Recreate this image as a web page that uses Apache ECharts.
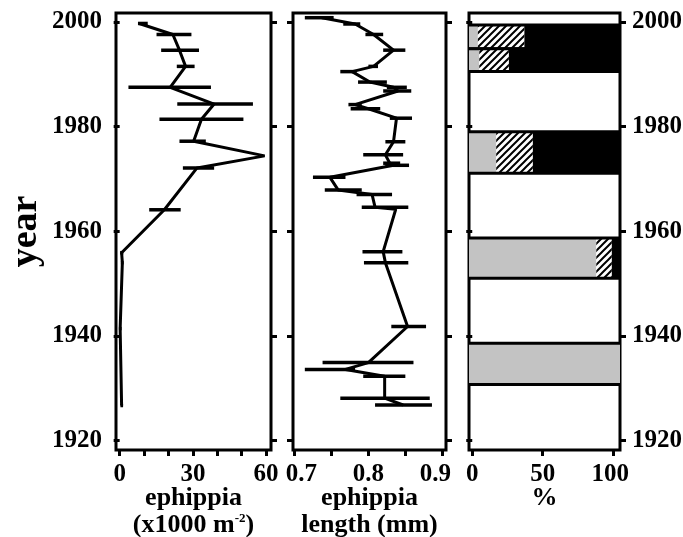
<!DOCTYPE html>
<html>
<head>
<meta charset="utf-8">
<script src="https://cdn.jsdelivr.net/npm/echarts@6.0.0/dist/echarts.min.js"></script>
<style>
  html, body { margin: 0; padding: 0; background: #fff; }
  #chart { width: 683px; height: 537px; }
</style>
</head>
<body>
<div id="chart"></div>
<script>
// panel 1: ephippia density (x1000 m-2)
var densYear  = [1999.7, 1997.6, 1994.6, 1991.5, 1987.5, 1984.3, 1981.4, 1977.2, 1974.4, 1972.1, 1964.1, 1955.9, 1954.0, 1941.4, 1926.7];
var densValue = [8.0, 21.8, 24.5, 27.0, 20.7, 38.7, 33.5, 30.3, 59.4, 31.7, 18.3, 0.8, 1.1, 0.2, 0.8];
var densLow   = [7.5, 15.1, 17.0, 23.4, 3.6, 23.6, 16.3, 24.5, 59.4, 25.9, 12.1, 0.2, 0.5, -0.3, 0.3];
var densHigh  = [11.5, 29.4, 32.5, 30.7, 37.4, 54.6, 50.7, 35.3, 59.4, 38.7, 25.0, 1.5, 1.6, 0.8, 1.4];

// panel 2: ephippia length (mm)
var lenYear  = [2000.8, 1999.6, 1997.6, 1994.6, 1991.5, 1990.5, 1988.5, 1987.5, 1986.8, 1984.2, 1983.4, 1981.6, 1977.1, 1974.6, 1973.0, 1972.6, 1970.3, 1967.9, 1967.0, 1964.6, 1964.2, 1956.1, 1954.0, 1941.8, 1934.9, 1933.6, 1932.3, 1928.1, 1926.8];
var lenValue = [0.737, 0.782, 0.807, 0.834, 0.807, 0.778, 0.802, 0.834, 0.840, 0.782, 0.800, 0.838, 0.834, 0.823, 0.829, 0.834, 0.748, 0.759, 0.805, 0.809, 0.837, 0.820, 0.823, 0.853, 0.800, 0.769, 0.822, 0.822, 0.847];
var lenLow   = [0.714, 0.766, 0.796, 0.820, 0.800, 0.762, 0.786, 0.825, 0.820, 0.773, 0.776, 0.829, 0.823, 0.793, 0.820, 0.823, 0.725, 0.741, 0.784, 0.791, 0.837, 0.792, 0.794, 0.831, 0.738, 0.714, 0.793, 0.762, 0.809];
var lenHigh  = [0.753, 0.789, 0.820, 0.850, 0.813, 0.784, 0.825, 0.852, 0.858, 0.791, 0.816, 0.859, 0.850, 0.847, 0.843, 0.855, 0.769, 0.791, 0.832, 0.854, 0.837, 0.846, 0.854, 0.878, 0.861, 0.782, 0.850, 0.883, 0.886];

// panel 3: composition (%) per sediment interval
var bandStart   = [1994.85, 1990.5, 1971.1, 1951.0, 1930.7];
var bandEnd     = [1999.4, 1994.85, 1979.0, 1958.7, 1938.6];
var bandGray    = [4, 5, 17, 88, 100];
var bandHatched = [33, 21, 26, 11, 0];
var bandBlack   = [63, 74, 57, 1, 0];

var yearTicks = [1920, 1940, 1960, 1980, 2000];
var densTicks = [0, 10, 20, 30, 40, 50, 60];
var densLabels = [0, 30, 60];
var lenTicks = [0.7, 0.75, 0.8, 0.85, 0.9];
var lenLabels = [0.7, 0.8, 0.9];
var pctTicks = [0, 50, 100];

var yearMin = 1918.2;
var yearMax = 2001.7;
var font = 'Liberation Serif';

function hatchPattern() {
    var c = document.createElement('canvas');
    c.width = 7;
    c.height = 7;
    var ctx = c.getContext('2d');
    ctx.fillStyle = '#fff';
    ctx.fillRect(0, 0, 7, 7);
    ctx.strokeStyle = '#000';
    ctx.lineWidth = 2;
    ctx.beginPath();
    ctx.moveTo(-1, 8); ctx.lineTo(8, -1);
    ctx.moveTo(-4, 4); ctx.lineTo(4, -4);
    ctx.moveTo(3, 11); ctx.lineTo(11, 3);
    ctx.stroke();
    return c;
}
var hatch = hatchPattern();

function pairs(xs, ys) {
    var out = [];
    for (var i = 0; i < xs.length; i++) out.push([xs[i], ys[i]]);
    return out;
}
function errData(lo, hi, ys) {
    var out = [];
    for (var i = 0; i < ys.length; i++) out.push([lo[i], hi[i], ys[i]]);
    return out;
}

function renderErr(params, api) {
    var a = api.coord([api.value(0), api.value(2)]);
    var b = api.coord([api.value(1), api.value(2)]);
    if (b[0] - a[0] < 1) return null;
    return {
        type: 'line',
        shape: { x1: a[0], y1: a[1], x2: b[0], y2: b[1] },
        style: { stroke: '#000', lineWidth: 3.5 }
    };
}

function renderBand(params, api) {
    var cs = params.coordSys;
    var left = cs.x, right = cs.x + cs.width;
    var top = api.coord([0, api.value(1)])[1];
    var bottom = api.coord([0, api.value(0)])[1];
    var vals = [api.value(2), api.value(3), api.value(4)];
    var fills = ['#c3c3c3', { image: hatch, repeat: 'repeat' }, '#000'];
    var last = 0;
    for (var k = 0; k < 3; k++) if (vals[k] > 0) last = k;
    var children = [];
    var cum = 0, x0 = left;
    for (var j = 0; j < 3; j++) {
        if (vals[j] <= 0) continue;
        cum += vals[j];
        var x1 = (j === last) ? right : api.coord([cum, 0])[0];
        children.push({
            type: 'rect',
            shape: { x: x0, y: top, width: x1 - x0, height: bottom - top },
            style: { fill: fills[j] }
        });
        x0 = x1;
    }
    children.push({ type: 'line', shape: { x1: left, y1: top, x2: right, y2: top }, style: { stroke: '#000', lineWidth: 3 } });
    children.push({ type: 'line', shape: { x1: left, y1: bottom, x2: right, y2: bottom }, style: { stroke: '#000', lineWidth: 3 } });
    return { type: 'group', children: children };
}

var bandData = [];
for (var i = 0; i < bandStart.length; i++) {
    bandData.push([bandStart[i], bandEnd[i], bandGray[i], bandHatched[i], bandBlack[i]]);
}

function yAx(gridIndex, pos, showLabel, extra) {
    var ax = {
        type: 'value', gridIndex: gridIndex, position: pos,
        min: yearMin, max: yearMax,
        axisLine: { show: false },
        splitLine: { show: false },
        axisTick: { show: true, length: 6, lineStyle: { color: '#000', width: 3 }, customValues: yearTicks },
        axisLabel: {
            show: showLabel, customValues: yearTicks, margin: pos === 'right' ? 12 : 14,
            fontFamily: font, fontWeight: 'bold', fontSize: 25, color: '#000',
            formatter: function(v) { return String(v); }
        }
    };
    if (extra) for (var k in extra) ax[k] = extra[k];
    return ax;
}

function xAx(gridIndex, min, max, ticks, labels, name, fmt) {
    return {
        type: 'value', gridIndex: gridIndex, min: min, max: max,
        axisLine: { show: false },
        splitLine: { show: false },
        axisTick: { show: true, length: 6, lineStyle: { color: '#000', width: 3 }, customValues: ticks },
        axisLabel: {
            customValues: labels, margin: 12,
            fontFamily: font, fontWeight: 'bold', fontSize: 25, color: '#000',
            formatter: fmt,
            rich: {
                r: { fontFamily: font, fontWeight: 'bold', fontSize: 25, padding: [0, 0, 0, 14] },
                l: { fontFamily: font, fontWeight: 'bold', fontSize: 25, padding: [0, 14, 0, 0] },
                ll: { fontFamily: font, fontWeight: 'bold', fontSize: 25, padding: [0, 6, 0, 0] }
            }
        },
        name: name, nameLocation: 'middle', nameGap: 35, nameMoveOverlap: false,
        nameTextStyle: {
            fontFamily: font, fontWeight: 'bold', fontSize: 26, color: '#000', lineHeight: 27,
            rich: { sup: { fontFamily: font, fontWeight: 'bold', fontSize: 13, verticalAlign: 'top', padding: [0, 0, 10, 0] } }
        }
    };
}

function gridBox(left, width) {
    return {
        left: left, top: 13, width: width, height: 437,
        outerBoundsMode: 'none', containLabel: false,
        show: true, borderColor: '#000', borderWidth: 3, backgroundColor: 'transparent'
    };
}

var chart = echarts.init(document.getElementById('chart'), null, { renderer: 'canvas' });
var option = {
    backgroundColor: '#fff',
    animation: false,
    grid: [gridBox(116, 155), gridBox(293, 153), gridBox(469, 151)],
    xAxis: [
        xAx(0, -1.5, 62, densTicks, densLabels, 'ephippia\n(x1000 m{sup|-2})', function(v) { return String(v); }),
        xAx(1, 0.698, 0.905, lenTicks, lenLabels, 'ephippia\nlength (mm)', function(v) {
            var s = v.toFixed(1);
            if (v < 0.75) return '{r|' + s + '}';
            if (v > 0.85) return '{l|' + s + '}';
            return s;
        }),
        xAx(2, -2.3, 104.8, pctTicks, pctTicks, '%', function(v) {
            if (v > 90) return '{ll|' + v + '}';
            return String(v);
        })
    ],
    yAxis: [
        yAx(0, 'left', true, {
            name: 'year', nameLocation: 'middle', nameRotate: 90, nameGap: 71, nameMoveOverlap: false,
            nameTextStyle: { fontFamily: font, fontWeight: 'bold', fontSize: 38, color: '#000' }
        }),
        yAx(0, 'right', false),
        yAx(1, 'left', false),
        yAx(1, 'right', false),
        yAx(2, 'left', false),
        yAx(2, 'right', true)
    ],
    series: [
        {
            type: 'custom', xAxisIndex: 2, yAxisIndex: 4,
            renderItem: renderBand, data: bandData,
            encode: { y: [0, 1] }, z: 1
        },
        {
            type: 'line', xAxisIndex: 0, yAxisIndex: 0,
            data: pairs(densValue, densYear), symbol: 'none',
            lineStyle: { color: '#000', width: 3 }, z: 3
        },
        {
            type: 'custom', xAxisIndex: 0, yAxisIndex: 0,
            renderItem: renderErr, data: errData(densLow, densHigh, densYear),
            encode: { x: [0, 1], y: 2 }, z: 3
        },
        {
            type: 'line', xAxisIndex: 1, yAxisIndex: 2,
            data: pairs(lenValue, lenYear), symbol: 'none',
            lineStyle: { color: '#000', width: 3 }, z: 3
        },
        {
            type: 'custom', xAxisIndex: 1, yAxisIndex: 2,
            renderItem: renderErr, data: errData(lenLow, lenHigh, lenYear),
            encode: { x: [0, 1], y: 2 }, z: 3
        }
    ]
};
chart.setOption(option);
</script>
</body>
</html>
